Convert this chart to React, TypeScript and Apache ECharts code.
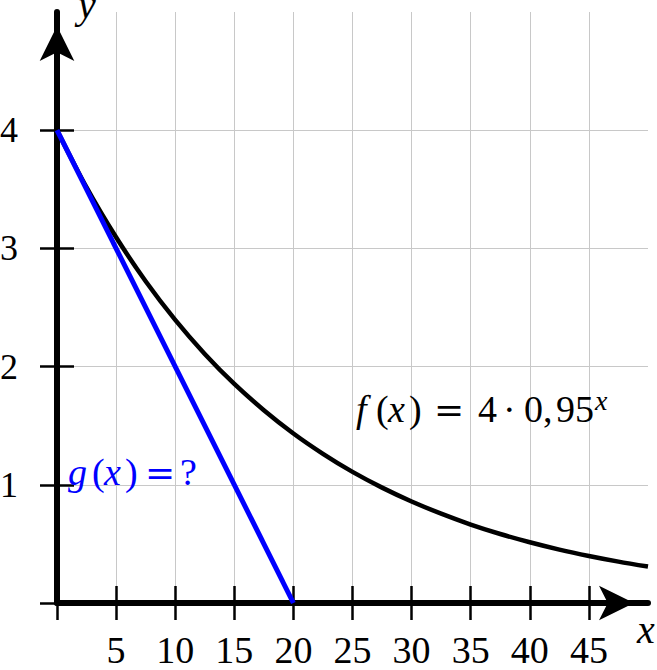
import React, { useEffect, useRef } from "react";
import * as echarts from "echarts";

// f(x) = 4 · 0,95^x
const fXs = [0, 2.5, 5, 7.5, 10, 12.5, 15, 17.5, 20, 22.5, 25, 27.5, 30, 32.5, 35, 37.5, 40, 42.5, 45, 47.5, 50];
const fYs = [4.0, 3.516, 3.094, 2.722, 2.395, 2.107, 1.853, 1.631, 1.434, 1.262, 1.109, 0.976, 0.859, 0.756, 0.664, 0.584, 0.514, 0.452, 0.398, 0.350, 0.308];
// g(x) straight line
const gXs = [0, 20];
const gYs = [4, 0];

const xTickValues = [0, 5, 10, 15, 20, 25, 30, 35, 40, 45];
const xLabelValues = [5, 10, 15, 20, 25, 30, 35, 40, 45];
const yTickValues = [0, 1, 2, 3, 4];
const yLabelValues = [1, 2, 3, 4];

const FONT = "Liberation Serif";

type Piece = { t: string; x: number; italic?: boolean; font?: string; size?: number; dy?: number };

function pieces(list: Piece[], y: number, color: string, base: number) {
  return list.map((p) => ({
    type: "text",
    x: p.x,
    y: y + (p.dy || 0),
    z: 10,
    style: {
      text: p.t,
      font: `${p.italic ? "italic " : ""}${p.size || base}px "${p.font || FONT}"`,
      fill: color,
      verticalAlign: "middle",
    },
  }));
}

export default function App() {
  const ref = useRef<HTMLDivElement>(null);
  useEffect(() => {
    if (!ref.current) return;
    const chart = echarts.init(ref.current, undefined, { renderer: "svg" });
    const fData = fXs.map((x, i) => [x, fYs[i]]);
    const gData = gXs.map((x, i) => [x, gYs[i]]);
    const tickStyle = { color: "#000", width: 2.5 };
    const fText: Piece[] = [
      { t: "f", x: 356, italic: true },
      { t: "(", x: 376 },
      { t: "x", x: 388, italic: true },
      { t: ")", x: 409 },
      { t: "=", x: 434, font: "DejaVu Serif", size: 36 },
      { t: "4", x: 478 },
      { t: "·", x: 503 },
      { t: "0,", x: 524 },
      { t: "95", x: 556 },
      { t: "x", x: 595, italic: true, size: 28, dy: -9 },
    ];
    const gText: Piece[] = [
      { t: "g", x: 68, italic: true },
      { t: "(", x: 92 },
      { t: "x", x: 104, italic: true },
      { t: ")", x: 125 },
      { t: "=", x: 145, font: "DejaVu Serif", size: 36 },
      { t: "?", x: 180 },
    ];
    chart.setOption({
      animation: false,
      backgroundColor: "#fff",
      grid: { left: 57, top: 12, width: 591, height: 591, containLabel: false, outerBoundsMode: "none" },
      xAxis: [
        {
          type: "value",
          min: 0,
          max: 50,
          interval: 5,
          axisLine: {
            show: true,
            onZero: false,
            lineStyle: { color: "#000", width: 6 },
            symbol: ["none", "arrow"],
            symbolSize: [26, 35],
            symbolOffset: [0, -14],
          },
          axisTick: { show: true, customValues: xTickValues, length: 17, lineStyle: tickStyle },
          axisLabel: {
            show: true,
            customValues: xLabelValues,
            margin: 28,
            fontSize: 38,
            fontFamily: FONT,
            color: "#000",
          },
          splitLine: { show: true, lineStyle: { color: "#c8c8c8", width: 1 } },
        },
        {
          type: "value",
          min: 0,
          max: 50,
          interval: 5,
          position: "bottom",
          axisLine: { show: false, onZero: false },
          axisTick: { show: true, inside: true, customValues: xTickValues, length: 17, lineStyle: tickStyle },
          axisLabel: { show: false },
          splitLine: { show: false },
        },
      ],
      yAxis: [
        {
          type: "value",
          min: 0,
          max: 5,
          interval: 0.5,
          axisLine: {
            show: true,
            onZero: false,
            lineStyle: { color: "#000", width: 6 },
            symbol: ["none", "arrow"],
            symbolSize: [26, 35],
            symbolOffset: [0, -14],
          },
          axisTick: { show: true, customValues: yTickValues, length: 17, lineStyle: tickStyle },
          axisLabel: {
            show: true,
            customValues: yLabelValues,
            margin: 39,
            fontSize: 36,
            fontFamily: FONT,
            color: "#000",
          },
          splitLine: { show: true, lineStyle: { color: "#c8c8c8", width: 1 } },
        },
        {
          type: "value",
          min: 0,
          max: 5,
          interval: 0.5,
          position: "left",
          axisLine: { show: false, onZero: false },
          axisTick: { show: true, inside: true, customValues: yTickValues, length: 17, lineStyle: tickStyle },
          axisLabel: { show: false },
          splitLine: { show: false },
        },
      ],
      series: [
        {
          type: "line",
          data: fData,
          smooth: 0.3,
          showSymbol: false,
          symbol: "none",
          lineStyle: { color: "#000", width: 4.5 },
          z: 3,
        },
        {
          type: "line",
          data: gData,
          showSymbol: false,
          symbol: "none",
          lineStyle: { color: "#0000ff", width: 5 },
          z: 4,
        },
      ],
      graphic: [
        {
          type: "text",
          x: 78,
          y: 4,
          style: {
            text: "y",
            font: `italic 40px "${FONT}"`,
            fill: "#000",
            verticalAlign: "middle",
          },
        },
        {
          type: "text",
          x: 637,
          y: 629,
          style: {
            text: "x",
            font: `italic 40px "${FONT}"`,
            fill: "#000",
            verticalAlign: "middle",
          },
        },
        ...pieces(fText, 409, "#000", 38),
        ...pieces(gText, 472, "#0000ff", 38),
      ],
    });
    return () => chart.dispose();
  }, []);
  return (
    <div
      ref={ref}
      style={{ position: "fixed", left: 0, top: 0, width: 657, height: 670, background: "#fff" }}
    />
  );
}
